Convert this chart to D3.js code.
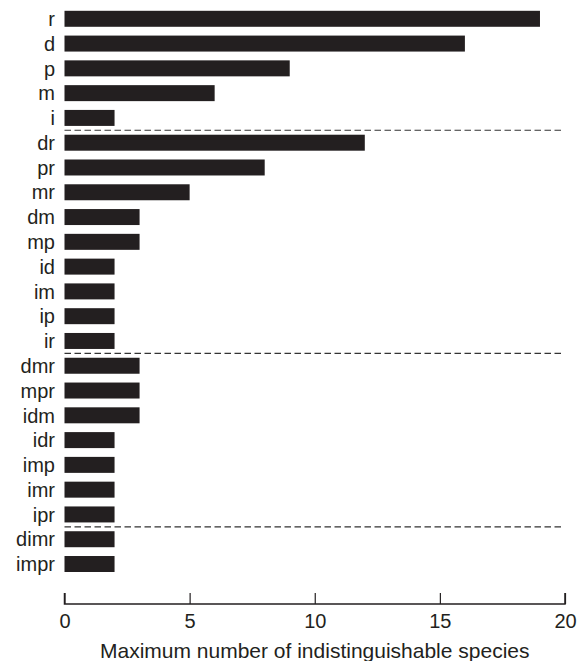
<!DOCTYPE html>
<html>
<head>
<meta charset="utf-8">
<script src="https://cdn.jsdelivr.net/npm/d3@7"></script>
<style>
  html, body { margin: 0; padding: 0; background: #fff; }
  svg { display: block; }
  text { font-family: "Liberation Sans", Arial, Helvetica, sans-serif; fill: #231f20; }
</style>
</head>
<body>
<svg id="chart" width="582" height="661"></svg>
<script>
// Sensor combinations, top to bottom
const combos = ["r", "d", "p", "m", "i",
                "dr", "pr", "mr", "dm", "mp", "id", "im", "ip", "ir",
                "dmr", "mpr", "idm", "idr", "imp", "imr", "ipr",
                "dimr", "impr"];
// Maximum number of indistinguishable species per combination
const maxIndist = [19, 16, 9, 6, 2,
                   12, 8, 5, 3, 3, 2, 2, 2, 2,
                   3, 3, 3, 2, 2, 2, 2,
                   2, 2];
// Group sizes (1, 2, 3 and 4 sensors) separated by dashed rules
const groupSizes = [5, 9, 7, 2];
const xTicks = [0, 5, 10, 15, 20];
const xTitle = "Maximum number of indistinguishable species";

const svg = d3.select("#chart");
const ink = "#231f20";

const x = d3.scaleLinear().domain([0, 20]).range([64.5, 565]);
const y = d3.scaleBand().domain(combos).range([6.4, 576.4])
  .paddingInner(0.355).paddingOuter(0.1775);

// Bars
svg.append("g").selectAll("rect")
  .data(combos)
  .join("rect")
  .attr("x", x(0))
  .attr("y", d => y(d))
  .attr("width", (d, i) => x(maxIndist[i]) - x(0))
  .attr("height", y.bandwidth())
  .attr("fill", ink);

// Category labels
svg.append("g").selectAll("text")
  .data(combos)
  .join("text")
  .attr("x", x(0) - 9.5)
  .attr("y", d => y(d) + y.bandwidth() / 2)
  .attr("dy", "0.36em")
  .attr("text-anchor", "end")
  .attr("font-size", 20)
  .text(d => d);

// Dashed separators between groups
const breaks = d3.cumsum(groupSizes).slice(0, -1);
svg.append("g").selectAll("line")
  .data(breaks)
  .join("line")
  .attr("x1", x(0))
  .attr("x2", x(19.85))
  .attr("y1", k => (y(combos[k - 1]) + y.bandwidth() + y(combos[k])) / 2)
  .attr("y2", k => (y(combos[k - 1]) + y.bandwidth() + y(combos[k])) / 2)
  .attr("stroke", "#333")
  .attr("stroke-width", 1.1)
  .attr("stroke-dasharray", "6.5,3.5");

// X axis with inward ticks
const axisY = 604;
const axis = svg.append("g")
  .attr("transform", `translate(0,${axisY})`)
  .call(d3.axisBottom(x).tickValues(xTicks).tickSize(-11).tickPadding(0).tickFormat(d3.format("d")));
axis.select(".domain").attr("stroke", ink).attr("stroke-width", 1.5).attr("d", `M${x(0)},-11V0H${x(20)}V-11`);
axis.selectAll(".tick line").attr("stroke", ink).attr("stroke-width", 1.2);
axis.selectAll(".tick text")
  .attr("y", 23.5)
  .attr("dy", 0)
  .attr("font-size", 20)
  .attr("font-family", "Liberation Sans, Arial, sans-serif")
  .attr("fill", ink);

// Axis title
svg.append("text")
  .attr("x", x(10))
  .attr("y", 658)
  .attr("text-anchor", "middle")
  .attr("font-size", 21)
  .text(xTitle);
</script>
</body>
</html>
